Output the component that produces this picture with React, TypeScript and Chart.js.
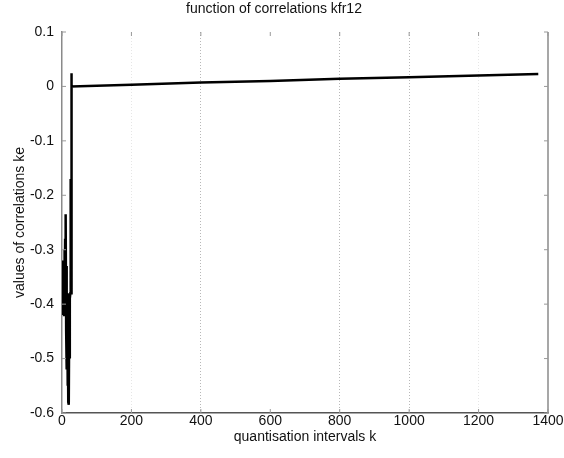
import React, { useEffect, useRef } from "react";
import { Chart, registerables } from "chart.js";

Chart.register(...registerables);

// quantisation interval k
const kValues = [
  0, 1, 2, 3, 4, 5, 6, 7, 8, 9, 10, 11, 12, 13, 14, 15, 16, 17, 18, 19, 20,
  21, 22, 23, 24, 25, 26, 27, 28, 200, 400, 600, 800, 1000, 1200, 1372,
];
// correlation value ke
const keValues = [
  -0.34, -0.33, -0.42, -0.32, -0.41, -0.35, -0.42, -0.3, -0.4, -0.28, -0.37,
  -0.235, -0.45, -0.33, -0.52, -0.4, -0.55, -0.38, -0.58, -0.46, -0.585,
  -0.4, -0.5, -0.39, -0.38, -0.17, -0.38, 0.024, 0.0, 0.003, 0.007, 0.01,
  0.014, 0.017, 0.02, 0.023,
];

const xTicks = [0, 200, 400, 600, 800, 1000, 1200, 1400];
const yTicks = [-0.6, -0.5, -0.4, -0.3, -0.2, -0.1, 0, 0.1];

const FONT = "'Liberation Sans', Arial, sans-serif";

// Short inward tick marks and the right-hand frame line
const frameTicks = {
  id: "frameTicks",
  afterDraw(chart: any) {
    const { ctx, chartArea: a, scales } = chart;
    ctx.save();
    ctx.strokeStyle = "#8a8a8a";
    ctx.lineWidth = 1.5;
    ctx.beginPath();
    ctx.moveTo(a.right, a.top);
    ctx.lineTo(a.right, a.bottom);
    ctx.stroke();
    ctx.lineWidth = 1;
    ctx.strokeStyle = "#999";
    for (const t of xTicks) {
      const x = scales.x.getPixelForValue(t);
      ctx.beginPath();
      ctx.moveTo(x, a.bottom);
      ctx.lineTo(x, a.bottom - 4);
      ctx.moveTo(x, a.top);
      ctx.lineTo(x, a.top + 4);
      ctx.stroke();
    }
    for (const t of yTicks) {
      const y = scales.y.getPixelForValue(t);
      ctx.beginPath();
      ctx.moveTo(a.left, y);
      ctx.lineTo(a.left + 4, y);
      ctx.moveTo(a.right, y);
      ctx.lineTo(a.right - 4, y);
      ctx.stroke();
    }
    ctx.restore();
  },
};

export default function App() {
  const ref = useRef<HTMLCanvasElement>(null);

  useEffect(() => {
    if (!ref.current) return;
    // dotted grid: clear at 400/800/1000, barely visible at 200/1200
    const gridColor = (i: number) => {
      const v = xTicks[i];
      if (v === 400 || v === 800 || v === 1000) return "#b8b8b8";
      if (v === 200 || v === 1200) return "#e6e6e6";
      return "rgba(0,0,0,0)";
    };
    const chart = new Chart(ref.current, {
      type: "line",
      data: {
        datasets: [
          {
            data: kValues.map((k, i) => ({ x: k, y: keValues[i] })),
            borderColor: "#000",
            borderWidth: 2.5,
            pointRadius: 0,
            tension: 0,
            fill: false,
          },
        ],
      },
      plugins: [frameTicks],
      options: {
        animation: false,
        responsive: false,
        devicePixelRatio: 1,
        layout: { padding: { left: 0, right: 16, top: 0, bottom: 0 } },
        plugins: {
          legend: { display: false },
          tooltip: { enabled: false },
          title: {
            display: true,
            text: "function of correlations kfr12",
            color: "#111",
            font: { family: FONT, size: 14, weight: "normal" },
            padding: { top: 1, bottom: 14.2 },
          },
        },
        scales: {
          x: {
            type: "linear",
            min: 0,
            max: 1400,
            afterBuildTicks: (s: any) => {
              s.ticks = xTicks.map((v) => ({ value: v }));
            },
            afterFit: (s: any) => {
              s.height = 45;
            },
            ticks: {
              color: "#111",
              font: { family: FONT, size: 14 },
              padding: 0,
              maxRotation: 0,
              autoSkip: false,
              callback: (v: any) => String(v),
            },
            grid: {
              drawTicks: false,
              lineWidth: 1,
              color: (c: any) => gridColor(c.index),
            },
            border: { display: true, color: "#555", width: 1.5, dash: [1, 2] },
            title: {
              display: true,
              text: "quantisation intervals k",
              color: "#111",
              font: { family: FONT, size: 14 },
              padding: { top: 0, bottom: 12 },
            },
          },
          y: {
            type: "linear",
            min: -0.6,
            max: 0.1,
            afterBuildTicks: (s: any) => {
              s.ticks = yTicks.map((v) => ({ value: v }));
            },
            afterFit: (s: any) => {
              s.width = 62;
            },
            ticks: {
              color: "#111",
              font: { family: FONT, size: 14 },
              padding: 8,
              callback: (v: any) => String(Number(Number(v).toFixed(1))),
            },
            grid: { display: false, drawTicks: false },
            border: { display: true, color: "#8a8a8a", width: 1.5 },
            title: {
              display: true,
              text: "values of correlations ke",
              color: "#111",
              font: { family: FONT, size: 14 },
              padding: { top: 12, bottom: 0 },
            },
          },
        },
      },
    } as any);
    return () => chart.destroy();
  }, []);

  return (
    <div style={{ position: "fixed", left: 0, top: 0, width: 564, height: 458, background: "#fff" }}>
      <canvas ref={ref} width={564} height={458} style={{ width: 564, height: 458 }} />
    </div>
  );
}
